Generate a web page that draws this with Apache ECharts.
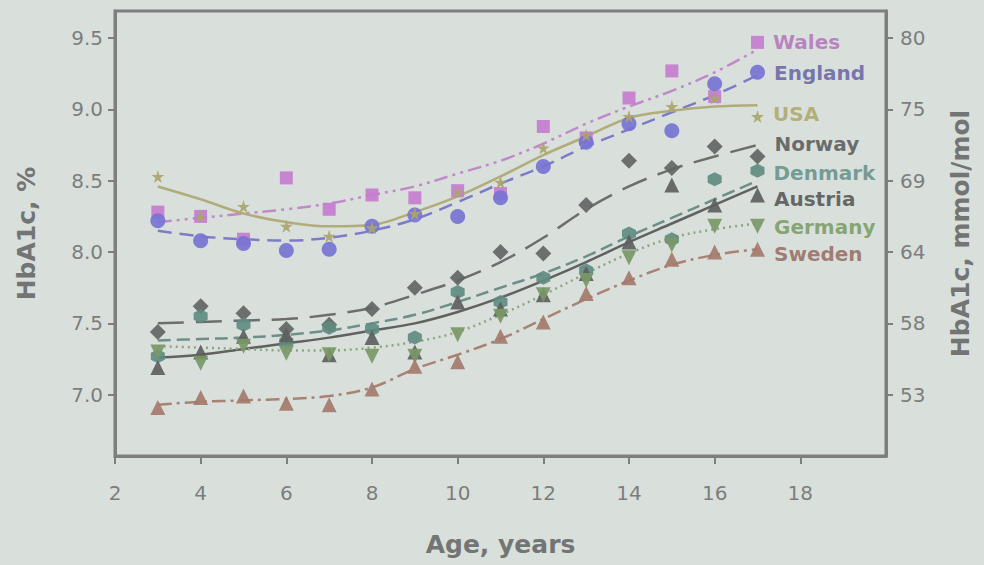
<!DOCTYPE html>
<html>
<head>
<meta charset="utf-8">
<script src="https://cdn.jsdelivr.net/npm/echarts@6/dist/echarts.min.js"></script>
<style>
  html, body { margin: 0; padding: 0; background: #d9e0dc; }
  #chart { width: 984px; height: 565px; }
</style>
</head>
<body>
<div id="chart"></div>
<script>
// ---- data ----
const ages = [3, 4, 5, 6, 7, 8, 9, 10, 11, 12, 13, 14, 15, 16, 17];
const ageTicks = [2, 4, 6, 8, 10, 12, 14, 16, 18];
const pctTicks = [7.0, 7.5, 8.0, 8.5, 9.0, 9.5];
const mmolTicks = ['53', '58', '64', '69', '75', '80'];

const walesPts   = [8.28, 8.25, 8.09, 8.52, 8.30, 8.40, 8.38, 8.43, 8.41, 8.88, 8.80, 9.08, 9.27, 9.09, 9.47];
const walesFit   = [8.21, 8.24, 8.27, 8.30, 8.34, 8.40, 8.46, 8.55, 8.64, 8.76, 8.90, 9.02, 9.13, 9.26, 9.42];
const englandPts = [8.22, 8.08, 8.06, 8.01, 8.02, 8.18, 8.26, 8.25, 8.38, 8.60, 8.77, 8.90, 8.85, 9.18, 9.26];
const englandFit = [8.15, 8.11, 8.09, 8.08, 8.10, 8.15, 8.23, 8.35, 8.48, 8.60, 8.74, 8.86, 8.98, 9.10, 9.24];
const usaPts     = [8.53, 8.25, 8.32, 8.18, 8.11, 8.17, 8.27, 8.42, 8.49, 8.73, 8.82, 8.95, 9.02, 9.08, 8.95];
const usaFit     = [8.46, 8.37, 8.27, 8.21, 8.18, 8.19, 8.28, 8.39, 8.53, 8.68, 8.81, 8.94, 8.99, 9.02, 9.03];
const norwayPts  = [7.44, 7.62, 7.57, 7.46, 7.49, 7.60, 7.75, 7.82, 8.00, 7.99, 8.33, 8.64, 8.59, 8.74, 8.67];
const norwayFit  = [7.50, 7.51, 7.52, 7.53, 7.56, 7.61, 7.70, 7.80, 7.93, 8.10, 8.30, 8.46, 8.58, 8.67, 8.75];
const denmarkPts = [7.27, 7.55, 7.49, 7.37, 7.47, 7.46, 7.40, 7.72, 7.65, 7.82, 7.87, 8.13, 8.09, 8.51, 8.57];
const denmarkFit = [7.38, 7.39, 7.40, 7.42, 7.45, 7.50, 7.56, 7.65, 7.75, 7.85, 7.97, 8.11, 8.24, 8.37, 8.50];
const austriaPts = [7.19, 7.30, 7.41, 7.42, 7.28, 7.40, 7.30, 7.65, 7.60, 7.70, 7.85, 8.07, 8.47, 8.33, 8.40];
const austriaFit = [7.26, 7.28, 7.32, 7.36, 7.40, 7.45, 7.50, 7.58, 7.68, 7.80, 7.93, 8.07, 8.20, 8.33, 8.46];
const germanyPts = [7.30, 7.22, 7.34, 7.29, 7.28, 7.27, 7.27, 7.42, 7.55, 7.70, 7.80, 7.96, 8.05, 8.18, 8.18];
const germanyFit = [7.34, 7.33, 7.32, 7.31, 7.31, 7.33, 7.37, 7.44, 7.56, 7.70, 7.85, 7.99, 8.10, 8.16, 8.20];
const swedenPts  = [6.91, 6.98, 6.99, 6.94, 6.93, 7.04, 7.20, 7.23, 7.41, 7.51, 7.71, 7.82, 7.95, 8.00, 8.02];
const swedenFit  = [6.93, 6.95, 6.96, 6.97, 6.99, 7.05, 7.18, 7.28, 7.39, 7.53, 7.67, 7.80, 7.91, 7.98, 8.02];

// ---- styles ----
const STAR = 'path://M50,0 L61,35 L98,35 L68,57 L79,91 L50,70 L21,91 L32,57 L2,35 L39,35 Z';
const HEX = 'path://M50,0 L93,25 L93,75 L50,100 L7,75 L7,25 Z';

const countries = [
  { name: 'Wales',   pts: walesPts,   fit: walesFit,   color: '#c67ccf', line: '#c08ac8', text: '#b67abf', dash: [14, 5, 3, 5, 3, 5], symbol: 'rect',     size: 13, rot: 0,   dy: 0 },
  { name: 'England', pts: englandPts, fit: englandFit, color: '#7773d2', line: '#7d7bc8', text: '#6c6aaa', dash: [14, 8],             symbol: 'circle',   size: 15, rot: 0,   dy: 1 },
  { name: 'USA',     pts: usaPts,     fit: usaFit,     color: '#a9a56c', line: '#b1ac7a', text: '#b0aa6e', dash: 'solid',             symbol: STAR,       size: 13, rot: 0,   dy: -3 },
  { name: 'Norway',  pts: norwayPts,  fit: norwayFit,  color: '#626563', line: '#6c6e6d', text: '#5f6160', dash: [26, 12],            symbol: 'diamond',  size: 16, rot: 0,   dy: -12 },
  { name: 'Denmark', pts: denmarkPts, fit: denmarkFit, color: '#5f8b80', line: '#6d8f88', text: '#6b958c', dash: [13, 6],             symbol: HEX,        size: 14, rot: 0,   dy: 2 },
  { name: 'Austria', pts: austriaPts, fit: austriaFit, color: '#5d5f5e', line: '#606261', text: '#5a5b5a', dash: 'solid',             symbol: 'triangle', size: 15, rot: 0,   dy: 4 },
  { name: 'Germany', pts: germanyPts, fit: germanyFit, color: '#7a9867', line: '#8ba67c', text: '#7f9e6a', dash: [2, 4],              symbol: 'triangle', size: 15, rot: 180, dy: 1 },
  { name: 'Sweden',  pts: swedenPts,  fit: swedenFit,  color: '#a57a6c', line: '#a98273', text: '#9b7268', dash: [14, 5, 3, 5],       symbol: 'triangle', size: 15, rot: 0,   dy: 5 }
];

const AXIS = '#7d7f7e';
const LABEL = '#7c7e7d';
const FONT = 'DejaVu Sans';

const series = [];
countries.forEach(c => {
  series.push({
    name: c.name + ' fit',
    type: 'line',
    smooth: 0.35,
    showSymbol: false,
    silent: true,
    z: 2,
    lineStyle: { color: c.line, width: 2.5, type: c.dash },
    data: ages.map((a, i) => [a, c.fit[i]])
  });
});
countries.forEach(c => {
  series.push({
    name: c.name,
    type: 'scatter',
    symbol: c.symbol,
    symbolSize: c.size,
    symbolRotate: c.rot,
    z: 3,
    itemStyle: { color: c.color, opacity: 0.92 },
    label: {
      show: true,
      position: 'right',
      distance: 9,
      offset: [0, c.dy],
      color: c.text,
      fontFamily: FONT,
      fontWeight: 'bold',
      fontSize: 20,
      formatter: p => (p.dataIndex === ages.length - 1 ? c.name : '')
    },
    data: ages.map((a, i) => [a, c.pts[i]])
  });
});

const findTick = v => pctTicks.findIndex(t => Math.abs(t - v) < 1e-6);

const chart = echarts.init(document.getElementById('chart'), null, { renderer: 'svg' });
chart.setOption({
  backgroundColor: '#d9e0dc',
  animation: false,
  grid: {
    left: 115, right: 98, top: 11, bottom: 109,
    show: true, borderColor: AXIS, borderWidth: 3, backgroundColor: 'transparent'
  },
  xAxis: {
    type: 'value', min: 2, max: 20, interval: 2,
    name: 'Age, years', nameLocation: 'middle', nameGap: 76,
    nameTextStyle: { color: '#737574', fontFamily: FONT, fontWeight: 'bold', fontSize: 25 },
    axisLine: { show: true, lineStyle: { color: AXIS, width: 3 } },
    axisTick: { show: true, length: 8, lineStyle: { color: AXIS, width: 2 } },
    splitLine: { show: false },
    axisLabel: {
      color: LABEL, fontFamily: FONT, fontSize: 20, margin: 27,
      showMaxLabel: false,
      formatter: v => (ageTicks.indexOf(v) >= 0 ? String(v) : '')
    }
  },
  yAxis: [
    {
      type: 'value', min: 6.57, max: 9.69, splitNumber: 6,
      name: 'HbA1c, %', nameLocation: 'middle', nameGap: 76, nameRotate: 90,
      nameTextStyle: { color: '#737574', fontFamily: FONT, fontWeight: 'bold', fontSize: 25 },
      axisLine: { show: true, lineStyle: { color: AXIS, width: 3 } },
      axisTick: { show: true, length: 7, lineStyle: { color: AXIS, width: 2 } },
      splitLine: { show: false },
      axisLabel: {
        color: LABEL, fontFamily: FONT, fontSize: 20, margin: 12,
        showMinLabel: false, showMaxLabel: false,
        formatter: v => (findTick(v) >= 0 ? v.toFixed(1) : '')
      }
    },
    {
      type: 'value', min: 6.57, max: 9.69, splitNumber: 6, position: 'right',
      name: 'HbA1c, mmol/mol', nameLocation: 'middle', nameGap: 62, nameRotate: 90,
      nameTextStyle: { color: '#737574', fontFamily: FONT, fontWeight: 'bold', fontSize: 25 },
      axisLine: { show: true, lineStyle: { color: AXIS, width: 3 } },
      axisTick: { show: true, length: 7, lineStyle: { color: AXIS, width: 2 } },
      splitLine: { show: false },
      axisLabel: {
        color: LABEL, fontFamily: FONT, fontSize: 20, margin: 14,
        showMinLabel: false, showMaxLabel: false,
        formatter: v => { const i = findTick(v); return i >= 0 ? mmolTicks[i] : ''; }
      }
    }
  ],
  series: series
});
</script>
</body>
</html>
